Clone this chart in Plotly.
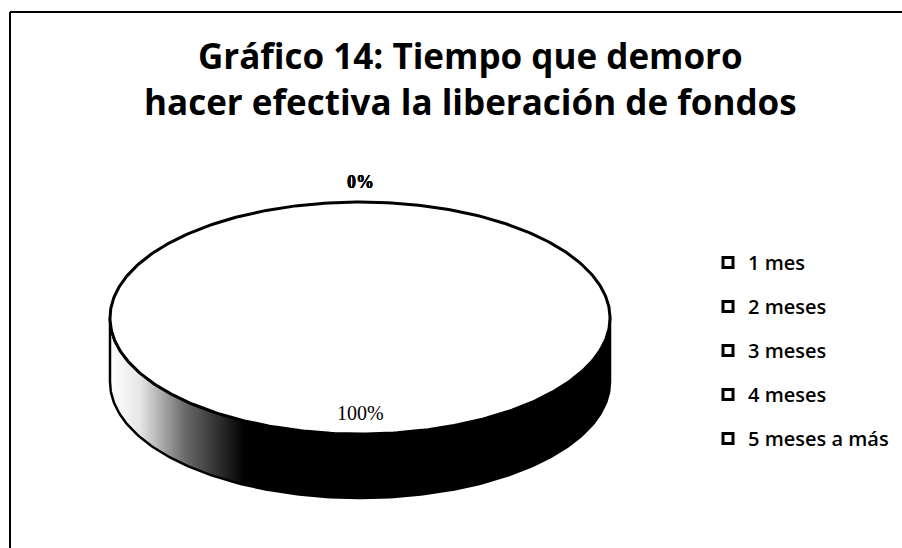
import numpy as np
import plotly.graph_objects as go

# ---- data ----
categories = ["1 mes", "2 meses", "3 meses", "4 meses", "5 meses a más"]
values = [100, 0, 0, 0, 0]
title_lines = ["Gráfico 14: Tiempo que demoro", "hacer efectiva la liberación de fondos"]

# ---- geometry of the 3D pie (pixel space) ----
CX, CY, RX, RY, DEPTH = 360, 318, 250, 116, 64

total = float(sum(values))
fracs = [v / total for v in values]
starts = np.cumsum([0] + fracs[:-1]) * 360.0
ends = starts + np.array(fracs) * 360.0


def pt(theta_deg, dy=0.0, r=1.0):
    t = np.radians(theta_deg)
    return CX + r * RX * np.sin(t), CY - r * RY * np.cos(t) + dy


fig = go.Figure()

# front side walls (visible between 90 and 270 deg, clockwise from 12 o'clock)
for cat, a, b in zip(categories, starts, ends):
    lo, hi = max(a, 90), min(b, 270)
    if hi <= lo:
        continue
    th = np.linspace(lo, hi, 200)
    xt, yt = pt(th)
    xb, yb = pt(th[::-1], dy=DEPTH)
    xs = np.concatenate([xt, xb, xt[:1]])
    ys = np.concatenate([yt, yb, yt[:1]])
    fig.add_trace(go.Scatter(
        x=xs, y=ys, mode="lines", fill="toself",
        line=dict(color="black", width=2.5),
        fillgradient=dict(type="horizontal",
                          colorscale=[[0, "#ffffff"], [0.06, "#e6e6e6"],
                                      [0.15, "#6a6a6a"], [0.27, "#000000"],
                                      [1, "#000000"]]),
        showlegend=False, hoverinfo="skip"))

# top faces
for cat, a, b in zip(categories, starts, ends):
    if b - a <= 0:
        continue
    th = np.linspace(a, b, 400)
    xa, ya = pt(th)
    if b - a >= 359.999:
        xs, ys = xa, ya
    else:
        xs = np.concatenate([[CX], xa, [CX]])
        ys = np.concatenate([[CY], ya, [CY]])
    fig.add_trace(go.Scatter(
        x=xs, y=ys, mode="lines", fill="toself", fillcolor="white",
        line=dict(color="black", width=3),
        showlegend=False, hoverinfo="skip"))

# data labels
for cat, v, a, b in zip(categories, values, starts, ends):
    mid = (a + b) / 2.0
    inside = v > 0
    r = 0.82 if inside else 1.17
    x, y = pt(mid, r=r)
    txt = f"{v:.0f}%" if inside else f"<b>{v:.0f}%</b>"
    fig.add_annotation(x=x, y=y, text=txt, showarrow=False,
                       font=dict(family="Liberation Serif", size=20 if inside else 18,
                                 color="black"))

# legend entries
for i, cat in enumerate(categories):
    fig.add_trace(go.Scatter(
        x=[None], y=[None], mode="markers", name=cat, legendgroup=f"g{i}",
        marker=dict(symbol="square", size=10, color="white",
                    line=dict(color="black", width=3))))

# title
fig.add_annotation(x=470 / 902, xref="paper", y=1 - 79 / 548, yref="paper",
                   text="<br>".join(f"<b>{t}</b>" for t in title_lines),
                   showarrow=False, yanchor="middle",
                   font=dict(family="Open Sans", size=35, color="black"))

# frame (scan edges: top and left)
fig.add_shape(type="line", x0=10, x1=902, y0=12, y1=12, line=dict(color="black", width=2))
fig.add_shape(type="line", x0=10, x1=10, y0=12, y1=548, line=dict(color="black", width=2))

fig.update_layout(
    width=902, height=548,
    margin=dict(l=0, r=0, t=0, b=0),
    paper_bgcolor="white", plot_bgcolor="white",
    xaxis=dict(range=[0, 902], visible=False, fixedrange=True),
    yaxis=dict(range=[548, 0], visible=False, fixedrange=True),
    showlegend=True,
    legend=dict(x=708 / 902, y=1 - 243 / 548, xanchor="left", yanchor="top",
                font=dict(family="Open Sans", size=20, color="black", weight=600),
                tracegroupgap=15, itemwidth=30, bgcolor="rgba(0,0,0,0)"),
)

fig.write_html("out.html",
               config={"displayModeBar": False},
               post_script="document.body.style.margin='0';document.body.style.overflow='hidden';")
